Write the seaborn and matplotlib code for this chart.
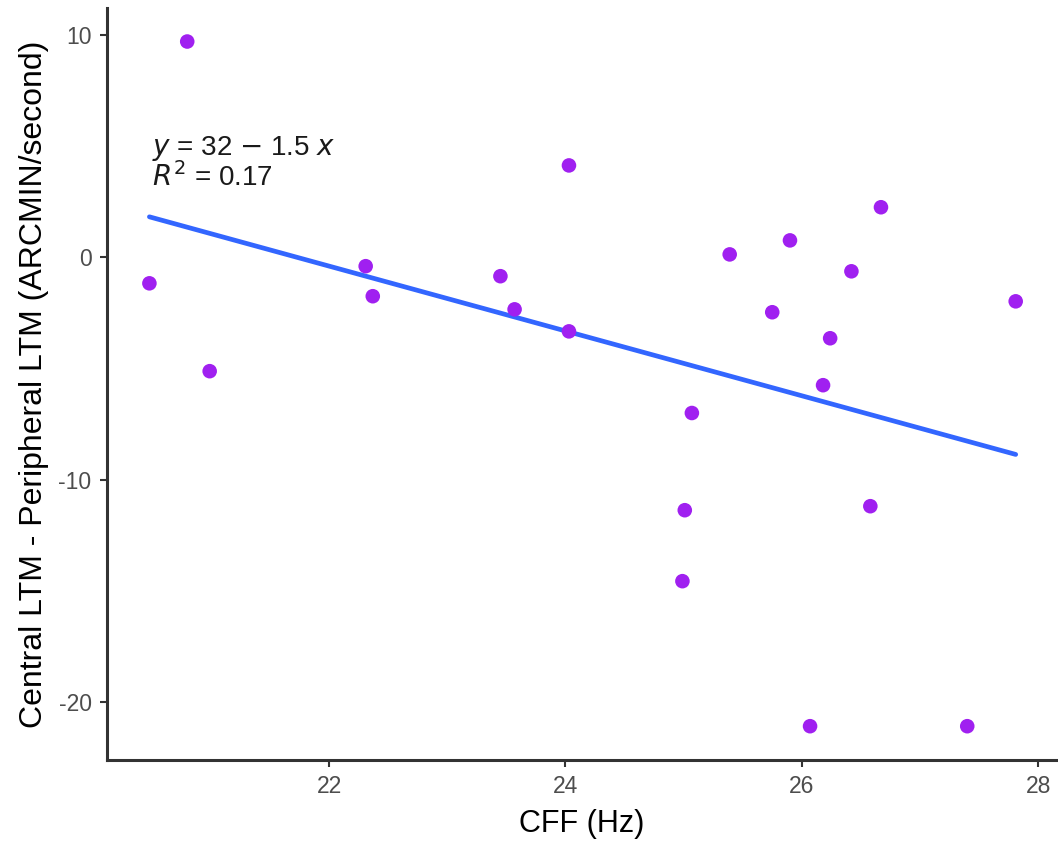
import matplotlib
matplotlib.use("Agg")
import matplotlib.pyplot as plt
import seaborn as sns
import numpy as np
import pandas as pd

cff = [20.48, 20.80, 20.99, 22.31, 22.37, 23.45, 23.57, 24.03, 24.03, 24.99,
       25.01, 25.07, 25.39, 25.75, 25.90, 26.07, 26.18, 26.24, 26.42, 26.58,
       26.67, 27.40, 27.81]
ltm_diff = [-1.17, 9.70, -5.12, -0.40, -1.75, -0.85, -2.34, 4.13, -3.33, -14.56,
            -11.37, -7.00, 0.13, -2.47, 0.76, -21.08, -5.75, -3.64, -0.63, -11.19,
            2.25, -21.08, -1.98]
x_ticks = [22, 24, 26, 28]
y_ticks = [-20, -10, 0, 10]
eq_label = r"$y$ = 32 $-$ 1.5 $x$" + "\n" + r"$R^2$ = 0.17"

df = pd.DataFrame({"CFF": cff, "diff": ltm_diff})

sns.set_theme(style="white")
plt.rcParams['font.family'] = ['Liberation Sans', 'DejaVu Sans']

fig = plt.figure(figsize=(10.58, 8.41), dpi=100)
ax = fig.add_axes([0.101, 0.0963, 0.897, 0.894])

sns.regplot(data=df, x="CFF", y="diff", ax=ax, ci=None,
            scatter_kws=dict(color="#A020F0", s=110, edgecolor="none", alpha=1, zorder=3),
            line_kws=dict(color="#3366FF", lw=3.4, zorder=2))

ax.set_xlim(20.12, 28.15)
ax.set_ylim(-22.6, 11.2)
ax.set_xticks(x_ticks)
ax.set_yticks(y_ticks)
ax.set_yticklabels([str(v) for v in y_ticks])
for s in ["top", "right"]:
    ax.spines[s].set_visible(False)
for s in ["left", "bottom"]:
    ax.spines[s].set_color("#333333")
    ax.spines[s].set_linewidth(2.2)
ax.tick_params(axis="both", which="both", length=5, width=1.5, color="#333333",
               labelsize=16.5, labelcolor="#4D4D4D", direction="out", pad=6,
               left=True, bottom=True)
ax.set_xlabel("CFF (Hz)", fontsize=22, color="black", labelpad=8)
ax.set_ylabel("Central LTM - Peripheral LTM (ARCMIN/second)", fontsize=23, color="black", labelpad=7)

ax.text(20.5, 2.95, eq_label, fontsize=20, color="#1a1a1a",
        va="bottom", ha="left", linespacing=0.95)

fig.savefig("out.png", dpi=100, facecolor="white")
